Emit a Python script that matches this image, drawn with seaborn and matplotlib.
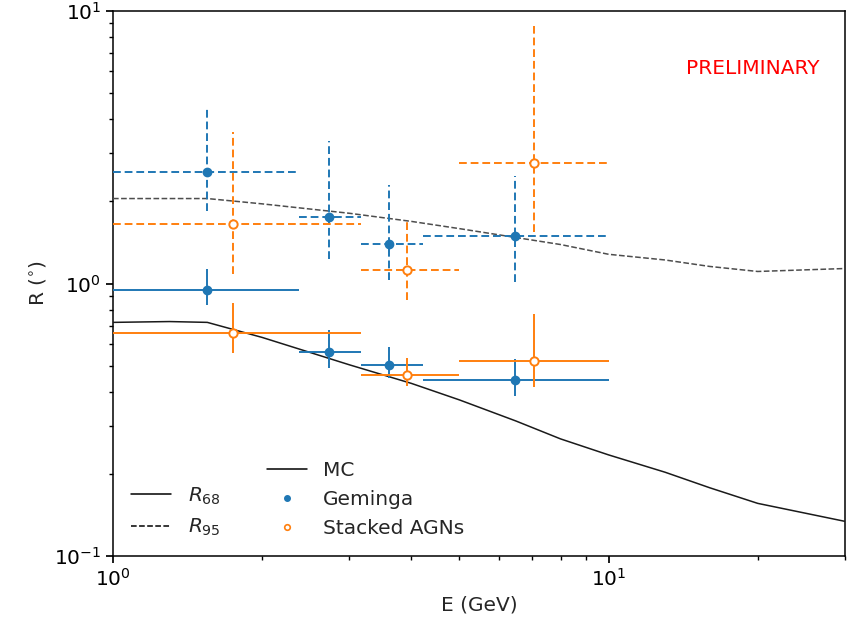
import numpy as np
import matplotlib
matplotlib.use("Agg")
import matplotlib.pyplot as plt
from matplotlib.lines import Line2D
import seaborn as sns

# ---- Monte Carlo containment radii (deg) vs energy (GeV) ----
mc_energy = [1.0, 1.3, 1.55, 2.0, 3.0, 4.0, 5.0, 6.5, 8.0, 10.0, 13.0, 16.0, 20.0, 30.0]
mc_r68 = [0.72, 0.725, 0.72, 0.634, 0.503, 0.430, 0.374, 0.313, 0.269, 0.235, 0.203, 0.178, 0.156, 0.134]
mc_r95 = [2.05, 2.05, 2.05, 1.96, 1.81, 1.69, 1.59, 1.475, 1.39, 1.28, 1.22, 1.155, 1.107, 1.135]

# ---- Geminga measurements ----
gem_energy = [1.547, 2.73, 3.60, 6.46]
gem_bin_lo = [1.0, 2.37, 3.16, 4.22]
gem_bin_hi = [2.37, 3.16, 4.22, 10.0]
gem_r68 = [0.943, 0.562, 0.504, 0.444]
gem_r68_lo = [0.837, 0.491, 0.451, 0.388]
gem_r68_hi = [1.126, 0.677, 0.587, 0.530]
gem_r95 = [2.56, 1.75, 1.40, 1.49]
gem_r95_lo = [1.84, 1.23, 1.03, 1.017]
gem_r95_hi = [4.44, 3.33, 2.29, 2.49]

# ---- Stacked AGN measurements ----
agn_energy = [1.75, 3.92, 7.06]
agn_bin_lo = [1.0, 3.16, 5.0]
agn_bin_hi = [3.16, 5.0, 10.0]
agn_r68 = [0.660, 0.463, 0.521]
agn_r68_lo = [0.557, 0.422, 0.418]
agn_r68_hi = [0.851, 0.534, 0.776]
agn_r95 = [1.66, 1.12, 2.76]
agn_r95_lo = [1.08, 0.873, 1.54]
agn_r95_hi = [3.59, 1.68, 8.81]

BLUE = "#1f77b4"
ORANGE = "#ff7f0e"
FS = 14.5

sns.set_theme(style="ticks", rc={
    "axes.edgecolor": "black",
    "axes.linewidth": 1.1,
    "xtick.color": "black",
    "ytick.color": "black",
    "xtick.major.size": 5,
    "ytick.major.size": 5,
    "xtick.minor.size": 3,
    "ytick.minor.size": 3,
    "font.size": FS,
    "axes.labelsize": FS,
    "xtick.labelsize": FS,
    "ytick.labelsize": FS,
    "legend.fontsize": FS,
})
plt.rcParams["font.family"] = ["DejaVu Sans"]
plt.rcParams["mathtext.fontset"] = "dejavusans"

fig, ax = plt.subplots(figsize=(8.51, 6.23), dpi=100)
fig.subplots_adjust(left=113 / 851, right=845 / 851, top=1 - 11 / 623, bottom=1 - 556 / 623)

# MC curves
sns.lineplot(x=mc_energy, y=mc_r68, color="0.1", lw=1.1, ax=ax, zorder=3)
sns.lineplot(x=mc_energy, y=mc_r95, color="0.3", lw=1.1, ls="--", ax=ax, zorder=3)


def draw_points(energy, lo, hi, r, r_lo, r_hi, color, dashed, open_marker):
    e = np.asarray(energy)
    r = np.asarray(r)
    xerr = [e - np.asarray(lo), np.asarray(hi) - e]
    yerr = [r - np.asarray(r_lo), np.asarray(r_hi) - r]
    kw = dict(fmt="o", color=color, ms=6, lw=1.4, capsize=0, zorder=4)
    if open_marker:
        kw.update(mfc="white", mec=color, mew=1.4)
    eb = ax.errorbar(e, r, xerr=xerr, yerr=yerr, **kw)
    if dashed:
        for coll in eb.lines[2]:
            coll.set_linestyle((0, (4, 2)))
    return eb


draw_points(gem_energy, gem_bin_lo, gem_bin_hi, gem_r68, gem_r68_lo, gem_r68_hi, BLUE, False, False)
draw_points(gem_energy, gem_bin_lo, gem_bin_hi, gem_r95, gem_r95_lo, gem_r95_hi, BLUE, True, False)
draw_points(agn_energy, agn_bin_lo, agn_bin_hi, agn_r68, agn_r68_lo, agn_r68_hi, ORANGE, False, True)
draw_points(agn_energy, agn_bin_lo, agn_bin_hi, agn_r95, agn_r95_lo, agn_r95_hi, ORANGE, True, True)

ax.set(xscale="log", yscale="log")
ax.set_xlim(1, 30)
ax.set_ylim(0.1, 10)
ax.set_xlabel("E (GeV)")
ax.set_ylabel(r"R ($^{\circ}$)")

ax.text(0.874, 0.895, "PRELIMINARY", color="red", fontsize=FS,
        ha="center", va="center", transform=ax.transAxes)

# legend for the containment levels
style_handles = [Line2D([], [], color="black", lw=1.1, ls="-"),
                 Line2D([], [], color="black", lw=1.1, ls="--")]
leg1 = ax.legend(style_handles, [r"$R_{68}$", r"$R_{95}$"], loc="lower left",
                 frameon=False)
ax.add_artist(leg1)

# legend for the data sets
data_handles = [Line2D([], [], color="black", lw=1.1),
                Line2D([], [], color=BLUE, marker="o", ls="none", ms=4),
                Line2D([], [], color=ORANGE, marker="o", ls="none", ms=4,
                       mfc="white", mec=ORANGE, mew=1.2)]
ax.legend(data_handles, ["MC", "Geminga", "Stacked AGNs"], loc="lower left",
          bbox_to_anchor=(0.185, 0.0), frameon=False)

fig.savefig("out.png", dpi=100)
